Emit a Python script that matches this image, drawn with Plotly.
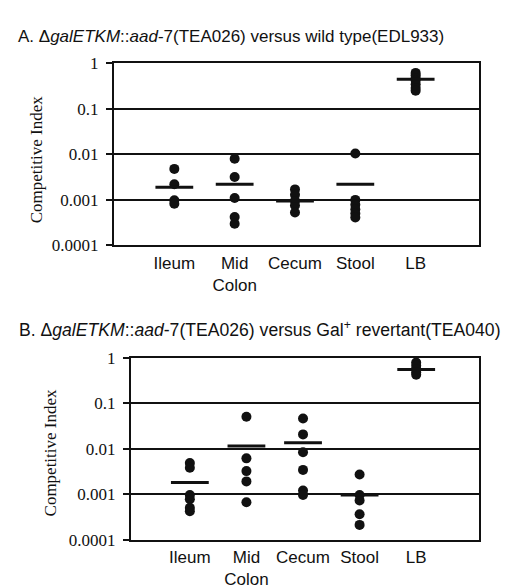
import plotly.graph_objects as go

# ---- data ----
categories = ["Ileum", "Mid<br>Colon", "Cecum", "Stool", "LB"]

ileum_a = [0.0048, 0.0022, 0.00098, 0.00082]
mid_a = [0.0080, 0.0032, 0.0011, 0.00042, 0.00030]
cecum_a = [0.0017, 0.0013, 0.00095, 0.00075, 0.00053]
stool_a = [0.0105, 0.0010, 0.00078, 0.00062, 0.00050, 0.00041]
lb_a = [0.62, 0.55, 0.48, 0.42, 0.35, 0.29, 0.25]
means_a = [0.0019, 0.0022, 0.00094, 0.0022, 0.45]

ileum_b = [0.0048, 0.0038, 0.00095, 0.00077, 0.00050, 0.00042]
mid_b = [0.050, 0.0061, 0.0032, 0.0019, 0.00066]
cecum_b = [0.046, 0.0205, 0.0083, 0.0034, 0.0012, 0.00095]
stool_b = [0.0027, 0.00095, 0.00072, 0.00036, 0.00021]
lb_b = [0.78, 0.66, 0.56, 0.48, 0.42]
means_b = [0.0018, 0.0114, 0.0135, 0.00095, 0.55]

y_ticks = [0.0001, 0.001, 0.01, 0.1, 1]
y_tick_labels = ["0.0001", "0.001", "0.01", "0.1", "1"]

title_a = "A. Δ<i>galETKM</i>::<i>aad</i>-7(TEA026) versus wild type(EDL933)"
title_b = "B. Δ<i>galETKM</i>::<i>aad</i>-7(TEA026) versus Gal<sup>+</sup> revertant(TEA040)"
y_title = "Competitive Index"

W, H = 525, 588
INK = "#111111"
SANS = "Liberation Sans, Arial, sans-serif"
SERIF = "Liberation Serif, Times New Roman, serif"

fig = go.Figure()

def add_panel(groups, means, xa, ya):
    for i, vals in enumerate(groups):
        fig.add_trace(go.Scatter(
            x=[i + 1] * len(vals), y=vals, mode="markers",
            marker=dict(size=10, color=INK, line=dict(width=0)),
            xaxis=xa, yaxis=ya, showlegend=False, hoverinfo="y"))
    fig.add_trace(go.Scatter(
        x=list(range(1, len(means) + 1)), y=means, mode="markers",
        marker=dict(symbol="line-ew", size=27, line=dict(width=3, color=INK)),
        xaxis=xa, yaxis=ya, showlegend=False, hoverinfo="y"))

add_panel([ileum_a, mid_a, cecum_a, stool_a, lb_a], means_a, "x", "y")
add_panel([ileum_b, mid_b, cecum_b, stool_b, lb_b], means_b, "x2", "y2")

def px_x(p):
    return p / W

def px_y(p):
    return 1 - p / H

xcommon = dict(
    tickvals=[1, 2, 3, 4, 5], ticktext=categories, ticks="",
    showline=True, linecolor=INK, linewidth=2, mirror=True,
    showgrid=False, zeroline=False,
    tickfont=dict(family=SANS, size=17, color=INK),
    ticklabelstandoff=1,
)
ycommon = dict(
    type="log", range=[-4, 0], tickvals=y_ticks, ticktext=y_tick_labels,
    ticks="outside", ticklen=6, tickwidth=2, tickcolor=INK,
    showline=True, linecolor=INK, linewidth=2, mirror=True,
    showgrid=True, gridcolor=INK, gridwidth=1.5, zeroline=False,
    tickfont=dict(family=SERIF, size=17, color=INK),
    ticklabelstandoff=4,
)

fig.update_layout(
    width=W, height=H, autosize=False,
    margin=dict(l=0, r=0, t=0, b=0),
    paper_bgcolor="white", plot_bgcolor="white",
    xaxis=dict(domain=[px_x(106), px_x(471)], range=[0, 6.05], anchor="y", **xcommon),
    yaxis=dict(domain=[px_y(236), px_y(48)], anchor="x", **ycommon),
    xaxis2=dict(domain=[px_x(123), px_x(471)], range=[-0.04, 6.11], anchor="y2", **xcommon),
    yaxis2=dict(domain=[px_y(540), px_y(352)], anchor="x2", **ycommon),
    annotations=[
        dict(text=title_a, x=px_x(8), y=px_y(20), xref="paper", yref="paper",
             xanchor="left", yanchor="middle", showarrow=False,
             font=dict(family=SANS, size=17, color=INK)),
        dict(text=title_b, x=px_x(9), y=px_y(322), xref="paper", yref="paper",
             xanchor="left", yanchor="middle", showarrow=False,
             font=dict(family=SANS, size=17.6, color=INK)),
        dict(text=y_title, x=px_x(28), y=px_y(147), xref="paper", yref="paper",
             xanchor="center", yanchor="middle", textangle=-90, showarrow=False,
             font=dict(family=SERIF, size=17, color=INK)),
        dict(text=y_title, x=px_x(42), y=px_y(450), xref="paper", yref="paper",
             xanchor="center", yanchor="middle", textangle=-90, showarrow=False,
             font=dict(family=SERIF, size=17, color=INK)),
    ],
)

fig.write_html("out.html")
